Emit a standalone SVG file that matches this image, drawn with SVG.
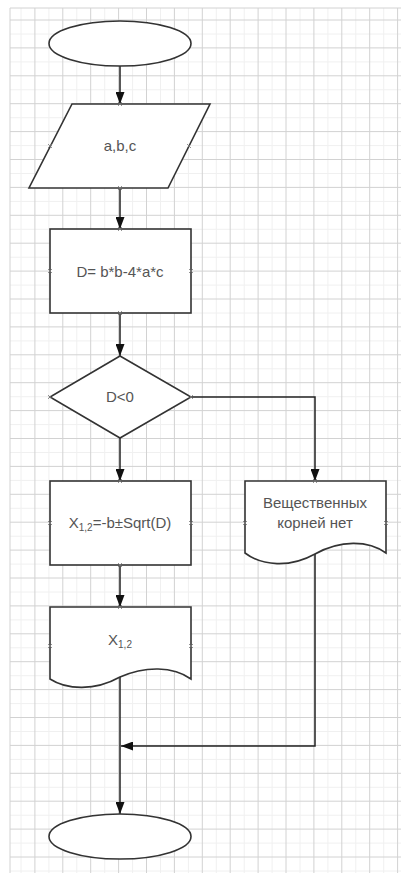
<svg xmlns="http://www.w3.org/2000/svg" width="401" height="873" viewBox="0 0 401 873">
<style>
.grid{stroke:#d2d2d2;stroke-width:1;fill:none}
.minor{stroke:#f0f0f0;stroke-width:1;fill:none}
.shape{fill:#fff;stroke:#333;stroke-width:1.6}
.conn{fill:none;stroke:#222;stroke-width:1.5}
.cross{stroke:#777;stroke-width:0.8;fill:none}
.lbl{font-family:"Liberation Sans",Arial,sans-serif;font-size:15px;fill:#555;text-anchor:middle}
</style>
<defs>
<marker id="arr" markerWidth="12" markerHeight="9" refX="12" refY="4.5" orient="auto" markerUnits="userSpaceOnUse">
<path d="M0,0 L12,4.5 L0,9 Z" fill="#111"/>
</marker>
</defs>
<rect x="0" y="0" width="401" height="873" fill="#fff"/>
<g id="grid">
<path class="minor" d="M21,8V873M48.9,8V873M76.8,8V873M104.7,8V873M132.6,8V873M160.5,8V873M188.4,8V873M216.3,8V873M244.2,8V873M272.1,8V873M300,8V873M327.9,8V873M355.8,8V873M383.7,8V873M10,34H401M10,61.9H401M10,89.8H401M10,117.7H401M10,145.6H401M10,173.5H401M10,201.4H401M10,229.3H401M10,257.2H401M10,285.1H401M10,313H401M10,340.9H401M10,368.8H401M10,396.7H401M10,424.6H401M10,452.5H401M10,480.4H401M10,508.3H401M10,536.2H401M10,564.1H401M10,592H401M10,619.9H401M10,647.8H401M10,675.7H401M10,703.6H401M10,731.5H401M10,759.4H401M10,787.3H401M10,815.2H401M10,843.1H401M10,871H401"/>
<path class="grid" d="M10,8V873M34.9,8V873M62.8,8V873M90.7,8V873M118.6,8V873M146.5,8V873M174.4,8V873M202.3,8V873M230.2,8V873M258.1,8V873M286,8V873M313.9,8V873M341.8,8V873M369.7,8V873M397.6,8V873M10,8H401M10,20H401M10,47.9H401M10,75.8H401M10,103.7H401M10,131.6H401M10,159.5H401M10,187.4H401M10,215.3H401M10,243.2H401M10,271.1H401M10,299H401M10,326.9H401M10,354.8H401M10,382.7H401M10,410.6H401M10,438.5H401M10,466.4H401M10,494.3H401M10,522.2H401M10,550.1H401M10,578H401M10,605.9H401M10,633.8H401M10,661.7H401M10,689.6H401M10,717.5H401M10,745.4H401M10,773.3H401M10,801.2H401M10,829.1H401M10,857H401"/>
</g>
<g id="connectors">
<path class="conn" d="M120,66V104" marker-end="url(#arr)"/>
<path class="conn" d="M120,188V229" marker-end="url(#arr)"/>
<path class="conn" d="M120,313V356" marker-end="url(#arr)"/>
<path class="conn" d="M191,397H315V481" marker-end="url(#arr)"/>
<path class="conn" d="M120,438V481" marker-end="url(#arr)"/>
<path class="conn" d="M120,565V607" marker-end="url(#arr)"/>
<path class="conn" d="M315,554V746H121" marker-end="url(#arr)"/>
<path class="conn" d="M120,677V814" marker-end="url(#arr)"/>
</g>
<g id="start">
<ellipse class="shape" cx="120" cy="43.5" rx="71" ry="22.5"/>
</g>
<g id="input">
<path class="shape" d="M72,104H210L168,188H29Z"/>
<text class="lbl" x="120" y="151">a,b,c</text>
<path class="cross" d="M118,102l4,4M122,102l-4,4M118,186l4,4M122,186l-4,4M48,144l4,4M52,144l-4,4M187,144l4,4M191,144l-4,4"/>
</g>
<g id="calcD">
<rect class="shape" x="50" y="229" width="141" height="84"/>
<text class="lbl" x="120" y="277">D= b*b-4*a*c</text>
<path class="cross" d="M118,227l4,4M122,227l-4,4M118,311l4,4M122,311l-4,4M48,269l4,4M52,269l-4,4M189,269l4,4M193,269l-4,4"/>
</g>
<g id="decision">
<path class="shape" d="M120,356L191,397L120,438L50,397Z"/>
<text class="lbl" x="120" y="402">D&lt;0</text>
<path class="cross" d="M48,395l4,4M52,395l-4,4M189,395l4,4M193,395l-4,4"/>
</g>
<g id="calcX">
<rect class="shape" x="50" y="481" width="141" height="84"/>
<text class="lbl" x="120" y="528">X<tspan font-size="10" dy="3">1,2</tspan><tspan dy="-3">=-b±Sqrt(D)</tspan></text>
<path class="cross" d="M118,479l4,4M122,479l-4,4M118,563l4,4M122,563l-4,4M48,521l4,4M52,521l-4,4M189,521l4,4M193,521l-4,4"/>
</g>
<g id="noRoots">
<path class="shape" d="M245,481H386V553C368,540 340,540 315,554C290,568 262,566 245,553Z"/>
<text class="lbl" x="315" y="508">Вещественных</text>
<text class="lbl" x="315" y="528">корней нет</text>
<path class="cross" d="M313,479l4,4M317,479l-4,4M243,521l4,4M247,521l-4,4M384,521l4,4M388,521l-4,4"/>
</g>
<g id="outX">
<path class="shape" d="M50,607H191V679C173,666 145,666 120,677C95,691 67,690 50,679Z"/>
<text class="lbl" x="120" y="645">X<tspan font-size="10" dy="3">1,2</tspan></text>
<path class="cross" d="M118,605l4,4M122,605l-4,4M48,644l4,4M52,644l-4,4M189,644l4,4M193,644l-4,4"/>
</g>
<g id="end">
<ellipse class="shape" cx="120" cy="836.5" rx="71" ry="22.5"/>
</g>
</svg>
